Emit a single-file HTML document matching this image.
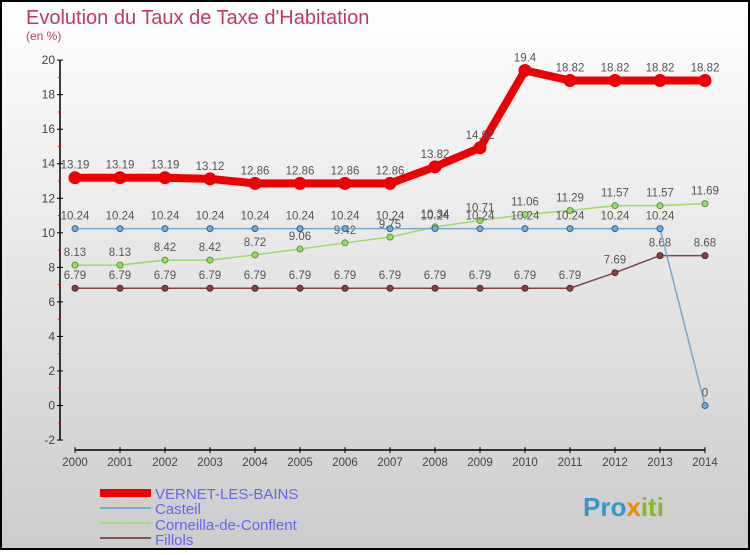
<!DOCTYPE html>
<html><head><meta charset="utf-8"><style>
body{margin:0}
#c{width:750px;height:550px;position:relative;font-family:"Liberation Sans",sans-serif}
</style></head><body>
<div id="c">
<svg id="s" width="750" height="550" xmlns="http://www.w3.org/2000/svg">
<defs><linearGradient id="bg" x1="0" y1="0" x2="0" y2="1"><stop offset="0" stop-color="#ffffff"/><stop offset="1" stop-color="#cccccc"/></linearGradient></defs>
<rect x="1" y="1" width="748" height="548" fill="url(#bg)" stroke="#000" stroke-width="2"/>
<text x="26" y="24" font-size="20" fill="#c0396b">Evolution du Taux de Taxe d'Habitation</text>
<text x="26" y="40" font-size="12" fill="#c0396b">(en %)</text>
<g id="axes"></g><g id="series"></g>
<g>
<rect x="100" y="489" width="51" height="8" fill="#e00"/>
<text x="155" y="499" font-size="15" fill="#6666ee">VERNET-LES-BAINS</text>
<rect x="100" y="507" width="51" height="2" fill="#7aaacc"/>
<text x="155" y="514" font-size="15" fill="#6666ee">Casteil</text>
<rect x="100" y="522" width="51" height="2" fill="#99dd77"/>
<text x="155" y="530" font-size="15" fill="#6666ee">Corneilla-de-Conflent</text>
<rect x="100" y="537" width="51" height="2" fill="#885555"/>
<text x="155" y="545" font-size="15" fill="#6666ee">Fillols</text>
</g>
<text x="583" y="516" font-size="26" font-weight="bold" fill="#3399cc">Pro<tspan fill="#ee8800">x</tspan><tspan fill="#88bb22">iti</tspan></text>
</svg></div>
<script>
const years=[2000,2001,2002,2003,2004,2005,2006,2007,2008,2009,2010,2011,2012,2013,2014];
const vernet=[13.19,13.19,13.19,13.12,12.86,12.86,12.86,12.86,13.82,14.92,19.4,18.82,18.82,18.82,18.82];
const casteil=[10.24,10.24,10.24,10.24,10.24,10.24,10.24,10.24,10.24,10.24,10.24,10.24,10.24,10.24,0];
const corneilla=[8.13,8.13,8.42,8.42,8.72,9.06,9.42,9.75,10.34,10.71,11.06,11.29,11.57,11.57,11.69];
const fillols=[6.79,6.79,6.79,6.79,6.79,6.79,6.79,6.79,6.79,6.79,6.79,6.79,7.69,8.68,8.68];
const yTicks=[-2,0,2,4,6,8,10,12,14,16,18,20];
const NS="http://www.w3.org/2000/svg";
const X=y=>75+(y-2000)*45;
const Y=v=>405.5-v*17.27;
function mk(t,a,p){const e=document.createElementNS(NS,t);for(const k in a)e.setAttribute(k,a[k]);p.appendChild(e);return e;}
const ax=document.getElementById('axes');
const ya=mk('line',{x1:60,y1:Y(20),x2:60,y2:Y(-2),stroke:'#000','stroke-width':1.5},ax);


yTicks.forEach(v=>{
 mk('line',{x1:57,x2:63,y1:Y(v),y2:Y(v),stroke:'#000'},ax);
 if(v<20) mk('line',{x1:58,x2:61,y1:Y(v+1),y2:Y(v+1),stroke:'#e00'},ax);
 const t=mk('text',{x:55,y:Y(v)+4,'text-anchor':'end','font-size':12,fill:'#444'},ax);t.textContent=v;
 
 
});
const xa=mk('line',{x1:X(2000),y1:450,x2:X(2014),y2:450,stroke:'#000','stroke-width':1.5},ax);


years.forEach(y=>{
 mk('line',{x1:X(y),x2:X(y),y1:447,y2:453,stroke:'#000'},ax);
 const t=mk('text',{x:X(y),y:466,'text-anchor':'middle','font-size':11.5,fill:'#444'},ax);t.textContent=y;
 
 
});
const sg=document.getElementById('series');
function draw(name,data,col,dark,w,r){
 const g=mk('g',{},sg);
 
 
 const l=mk('polyline',{points:data.map((v,i)=>X(years[i])+','+Y(v)).join(' '),fill:'none',stroke:col,'stroke-width':w},g);
 
 
 data.forEach((v,i)=>{
  const c=mk('circle',{cx:X(years[i]),cy:Y(v),r:r,fill:col,stroke:dark,'stroke-width':1},g);
  
  
  const t=mk('text',{x:X(years[i]),y:Y(v)-9,'text-anchor':'middle','font-size':11.5,fill:'#555'},g);t.textContent=v;
  
  
 });
}
draw('fillols',fillols,'#884444','#552222',1.5,3);
draw('corneilla',corneilla,'#99dd66','#559933',1.5,3);
draw('casteil',casteil,'#77aacc','#336699',1.5,3);
draw('vernet',vernet,'#ee0000','#ee0000',8,6);
</script>
</body></html>
